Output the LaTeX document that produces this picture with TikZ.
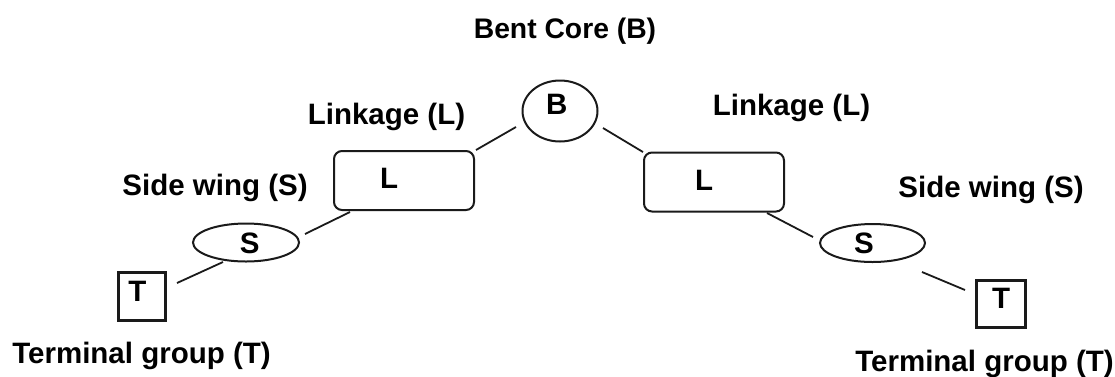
\documentclass[tikz,border=0pt]{standalone}
\usepackage{fontspec}
\setmainfont{Liberation Sans}
\usetikzlibrary{shapes.geometric}
\definecolor{ink}{HTML}{1A1A1A}
\tikzset{
  lbl/.style={font=\bfseries\fontsize{29.5}{33}\selectfont, inner sep=0pt, text=black},
  inl/.style={font=\bfseries\fontsize{29.5}{33}\selectfont, inner sep=0pt, text=black},
  lbox/.style={draw=ink, line width=2pt, rectangle, rounded corners=8pt, minimum width=140pt, minimum height=59pt, inner sep=0pt},
  core/.style={draw=ink, line width=2pt, ellipse, minimum width=75pt, minimum height=61pt, inner sep=0pt},
  wing/.style={draw=ink, line width=2pt, ellipse, minimum width=106pt, minimum height=38pt, inner sep=0pt},
  term/.style={draw=ink, line width=3pt, rectangle, minimum width=47pt, minimum height=48pt, inner sep=0pt},
  conn/.style={draw=ink, line width=1.8pt}
}
\begin{document}
\begin{tikzpicture}[x=1pt,y=-1pt]
\useasboundingbox[fill=white] (0,0) rectangle (1115,376);
% shapes
\node[core, label={[inl,xshift=-3.3pt,yshift=6.3pt]center:B}] (B) at (560,111) {};
\node[lbox, label={[inl,xshift=-14.8pt,yshift=1.8pt]center:L}] (LL) at (404,180.5) {};
\node[lbox, label={[inl,xshift=-10pt,yshift=2pt]center:L}] (RL) at (714,182) {};
\node[wing, label={[inl,xshift=3.7pt,yshift=-0.8pt]center:S}] (LS) at (246,242.5) {};
\node[wing, minimum width=105pt, label={[inl,xshift=-8.5pt,yshift=-0.5pt]center:S}] (RS) at (872.5,243) {};
\node[term, label={[inl,xshift=-4.5pt,yshift=5.5pt]center:T}] (LT) at (142,296.5) {};
\node[term, minimum width=49pt, minimum height=47pt, label={[inl,xshift=0pt,yshift=5.2pt]center:T}] (RT) at (1001,304) {};
% labels
\node[lbl, font=\bfseries\fontsize{28.3}{32}\selectfont] (tB) at (565,31) {Bent Core (B)};
\node[lbl] (tLL) at (386.5,116.5) {Linkage (L)};
\node[lbl] (tRL) at (791.5,107.5) {Linkage (L)};
\node[lbl] (tLS) at (215,187.5) {Side wing (S)};
\node[lbl] (tRS) at (991,190) {Side wing (S)};
\node[lbl] (tLT) at (141.5,356) {Terminal group (T)};
\node[lbl] (tRT) at (984.5,363.5) {Terminal group (T)};
% connectors
\draw[conn] ([shift={(72,-30.5)}]LL.center) -- ([shift={(-44,16)}]B.center);
\draw[conn] ([shift={(43,17)}]B.center) -- ([shift={(-71,-30)}]RL.center);
\draw[conn] ([shift={(-54,31.5)}]LL.center) -- ([shift={(59,-8.5)}]LS.center);
\draw[conn] ([shift={(53,31)}]RL.center) -- ([shift={(-59.5,-6)}]RS.center);
\draw[conn] ([shift={(-23,19.5)}]LS.center) -- ([shift={(35,-13.5)}]LT.center);
\draw[conn] ([shift={(49.5,29)}]RS.center) -- ([shift={(-36,-14)}]RT.center);
\end{tikzpicture}
\end{document}
